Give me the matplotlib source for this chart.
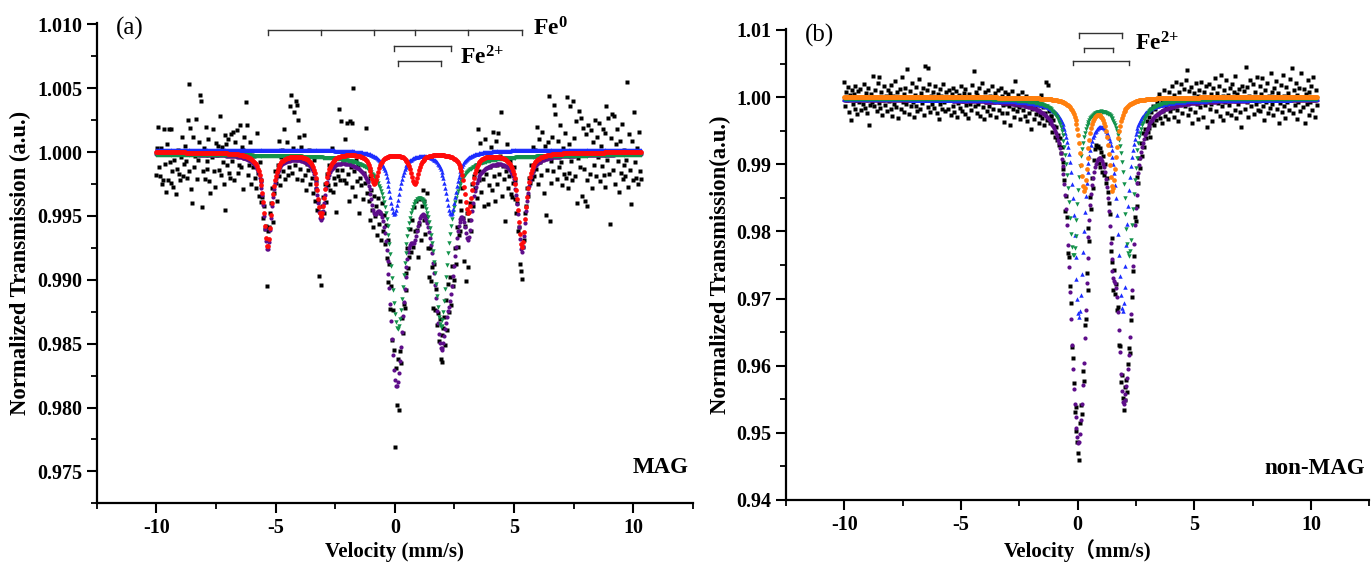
import numpy as np
import matplotlib
matplotlib.use("Agg")
import matplotlib.pyplot as plt
from matplotlib.ticker import MultipleLocator, FormatStrFormatter

plt.rcParams["font.family"] = ["Liberation Serif", "Noto Sans CJK SC"]
plt.rcParams["mathtext.fontset"] = "custom"
plt.rcParams["mathtext.rm"] = "Liberation Serif"
plt.rcParams["mathtext.bf"] = "Liberation Serif:bold"
plt.rcParams["axes.unicode_minus"] = False

# velocity range of the channels (mm/s)
VEL_A = (-10.0, 10.3)
VEL_B = (-10.0, 10.25)

# (a) MAG: measured transmission, one value per channel
mag_trans = [
    0.9982, 1.0003, 1.0020, 0.9988, 0.9981, 1.0003, 0.9975, 0.9978, 1.0018, 0.9991, 0.9969, 1.0006, 0.9978, 1.0018, 0.9992, 0.9976,
    1.0018, 0.9985, 0.9973, 0.9994, 1.0000, 0.9967, 0.9987, 1.0002, 0.9983, 0.9978, 0.9996, 1.0012, 0.9981, 0.9991, 1.0005, 0.9993,
    0.9980, 1.0025, 1.0053, 0.9985, 1.0019, 0.9971, 0.9960, 1.0012, 0.9988, 0.9997, 1.0026, 0.9979, 0.9994, 1.0008, 1.0045, 1.0040,
    0.9957, 0.9985, 1.0003, 0.9979, 1.0020, 0.9993, 0.9987, 1.0010, 0.9977, 0.9968, 1.0000, 0.9996, 1.0018, 0.9985, 0.9973, 1.0007,
    0.9998, 1.0005, 0.9986, 1.0028, 0.9982, 1.0004, 0.9992, 0.9975, 1.0013, 0.9955, 1.0006, 0.9990, 1.0010, 0.9984, 0.9980, 1.0014,
    0.9993, 1.0016, 0.9978, 1.0008, 0.9999, 1.0017, 0.9984, 0.9990, 1.0021, 0.9988, 1.0004, 0.9971, 1.0002, 1.0012, 0.9995, 1.0039,
    1.0021, 0.9982, 0.9990, 1.0008, 0.9975, 1.0001, 0.9988, 0.9997, 0.9980, 0.9972, 1.0015, 0.9984, 0.9966, 0.9992, 0.9961, 0.9978,
    0.9965, 0.9948, 0.9958, 0.9940, 0.9942, 0.9895, 0.9938, 0.9941, 0.9952, 0.9960, 0.9972, 0.9945, 0.9968, 0.9985, 0.9976, 0.9962,
    0.9990, 0.9981, 1.0009, 0.9974, 0.9996, 1.0002, 0.9985, 1.0018, 0.9979, 0.9993, 1.0008, 0.9982, 0.9988, 1.0036, 1.0045, 0.9984,
    1.0003, 1.0031, 0.9990, 1.0040, 1.0037, 0.9979, 1.0025, 1.0012, 0.9987, 1.0004, 0.9978, 0.9996, 1.0013, 0.9982, 0.9970, 0.9991,
    0.9986, 1.0002, 0.9975, 0.9991, 0.9980, 0.9968, 0.9994, 0.9962, 0.9978, 0.9971, 0.9955, 0.9962, 0.9903, 0.9953, 0.9896, 0.9958,
    0.9965, 0.9952, 0.9975, 0.9961, 0.9983, 0.9974, 0.9990, 0.9970, 0.9988, 1.0003, 0.9969, 0.9980, 0.9995, 0.9975, 0.9953, 0.9986,
    0.9981, 1.0034, 0.9978, 1.0024, 0.9986, 0.9992, 0.9978, 1.0010, 0.9976, 1.0023, 0.9983, 0.9962, 1.0024, 0.9988, 0.9973, 1.0023,
    1.0050, 0.9985, 0.9966, 0.9994, 0.9977, 0.9990, 0.9952, 0.9980, 0.9974, 0.9996, 0.9963, 0.9984, 0.9976, 1.0019, 0.9968, 0.9978,
    0.9962, 0.9981, 0.9947, 0.9970, 0.9955, 0.9941, 0.9966, 0.9950, 0.9958, 0.9935, 0.9964, 0.9944, 0.9952, 0.9931, 0.9960, 0.9938,
    0.9951, 0.9928, 0.9943, 0.9917, 0.9931, 0.9898, 0.9912, 0.9877, 0.9895, 0.9853, 0.9876, 0.9845, 0.9769, 0.9831, 0.9802, 0.9838,
    0.9798, 0.9844, 0.9835, 0.9870, 0.9858, 0.9881, 0.9878, 0.9905, 0.9892, 0.9925, 0.9909, 0.9918, 0.9940, 0.9922, 0.9947, 0.9926,
    0.9957, 0.9938, 0.9962, 0.9939, 0.9918, 0.9944, 0.9963, 0.9931, 0.9958, 0.9970, 0.9947, 0.9962, 0.9936, 0.9950, 0.9968, 0.9925,
    0.9902, 0.9925, 0.9899, 0.9910, 0.9878, 0.9912, 0.9876, 0.9893, 0.9865, 0.9874, 0.9852, 0.9869, 0.9838, 0.9857, 0.9836, 0.9862,
    0.9871, 0.9849, 0.9884, 0.9861, 0.9897, 0.9875, 0.9902, 0.9880, 0.9911, 0.9895, 0.9900, 0.9925, 0.9912, 0.9941, 0.9926, 0.9935,
    0.9962, 0.9938, 0.9955, 0.9972, 0.9948, 0.9915, 0.9942, 0.9899, 0.9952, 0.9910, 0.9947, 0.9960, 0.9938, 0.9975, 0.9958, 0.9981,
    0.9972, 0.9990, 0.9964, 1.0018, 0.9978, 0.9985, 1.0007, 0.9969, 0.9992, 0.9979, 0.9958, 1.0010, 0.9983, 0.9996, 0.9959, 0.9974,
    0.9988, 1.0004, 0.9970, 1.0016, 0.9981, 0.9962, 1.0009, 0.9990, 0.9975, 1.0015, 0.9983, 0.9997, 1.0031, 0.9966, 0.9989, 0.9979,
    0.9946, 0.9985, 1.0006, 0.9972, 0.9981, 0.9993, 0.9967, 0.9965, 0.9976, 0.9988, 0.9963, 0.9978, 0.9952, 0.9960, 0.9938, 0.9941,
    0.9912, 0.9907, 0.9901, 0.9926, 0.9931, 0.9952, 0.9958, 0.9972, 0.9966, 0.9980, 0.9976, 0.9990, 0.9979, 0.9985, 1.0004, 0.9981,
    1.0002, 0.9987, 1.0020, 0.9975, 1.0010, 0.9992, 0.9982, 1.0016, 0.9997, 0.9968, 1.0005, 0.9951, 0.9986, 1.0008, 1.0044, 0.9946,
    0.9993, 0.9976, 1.0012, 0.9985, 1.0037, 1.0030, 0.9998, 0.9979, 1.0009, 0.9988, 1.0021, 0.9992, 0.9974, 1.0003, 0.9983, 1.0015,
    0.9980, 1.0043, 0.9972, 1.0006, 0.9984, 1.0036, 0.9993, 0.9978, 1.0040, 1.0011, 0.9981, 1.0024, 0.9960, 0.9995, 1.0032, 0.9988,
    1.0027, 0.9966, 1.0019, 0.9987, 0.9962, 1.0014, 0.9978, 0.9958, 1.0021, 0.9999, 0.9983, 1.0017, 0.9972, 1.0008, 0.9990, 1.0025,
    0.9981, 1.0012, 0.9996, 1.0023, 0.9977, 1.0005, 0.9989, 1.0018, 0.9982, 1.0015, 0.9973, 1.0036, 0.9994, 1.0027, 0.9983, 0.9944,
    1.0011, 1.0030, 0.9986, 1.0028, 0.9975, 1.0006, 1.0018, 0.9993, 0.9969, 1.0009, 0.9984, 1.0022, 0.9979, 1.0002, 0.9990, 0.9981,
    0.9994, 1.0055, 0.9973, 1.0014, 0.9986, 0.9959, 1.0009, 0.9978, 1.0031, 0.9992, 0.9980, 1.0003, 0.9975, 1.0016, 0.9985, 0.9979,
]

# (b) non-MAG: measured transmission, one value per channel
nonmag_trans = [
    1.0023, 0.9987, 1.0008, 0.9995, 1.0015, 0.9978, 1.0003, 0.9966, 1.0011, 0.9990, 1.0004, 0.9983, 1.0016, 0.9996, 0.9975, 1.0009,
    0.9992, 1.0012, 0.9981, 1.0000, 0.9989, 1.0020, 0.9984, 1.0006, 0.9977, 0.9998, 1.0013, 0.9959, 0.9988, 1.0004, 0.9993, 1.0031,
    0.9986, 1.0010, 0.9997, 0.9980, 1.0021, 0.9991, 1.0030, 0.9984, 1.0007, 0.9973, 0.9995, 1.0016, 0.9988, 1.0002, 0.9979, 1.0011,
    0.9994, 1.0006, 0.9982, 1.0018, 0.9972, 1.0001, 0.9990, 1.0024, 0.9985, 1.0008, 0.9969, 0.9997, 1.0012, 0.9983, 1.0030, 0.9993,
    1.0005, 0.9978, 1.0014, 0.9989, 1.0042, 0.9996, 0.9975, 1.0009, 0.9986, 1.0021, 0.9992, 0.9971, 1.0003, 0.9987, 1.0015, 0.9980,
    0.9998, 1.0027, 0.9983, 1.0006, 0.9991, 1.0013, 0.9974, 1.0047, 0.9996, 1.0010, 1.0043, 0.9985, 1.0019, 0.9978, 1.0002, 0.9990,
    1.0008, 0.9984, 1.0016, 0.9997, 0.9976, 1.0005, 0.9968, 1.0012, 0.9989, 1.0001, 0.9982, 1.0019, 0.9993, 0.9979, 1.0007, 0.9995,
    0.9983, 1.0011, 0.9996, 0.9973, 1.0004, 0.9987, 1.0014, 0.9978, 0.9998, 1.0009, 0.9970, 0.9991, 1.0003, 0.9984, 1.0017, 0.9980,
    0.9994, 1.0006, 0.9975, 1.0012, 0.9988, 1.0000, 0.9969, 1.0004, 0.9990, 0.9981, 1.0018, 0.9995, 1.0039, 0.9986, 1.0008, 0.9977,
    1.0003, 0.9989, 1.0013, 0.9972, 0.9996, 1.0021, 0.9985, 0.9968, 1.0007, 0.9992, 0.9979, 1.0010, 0.9987, 1.0001, 0.9974, 0.9998,
    1.0016, 0.9983, 0.9992, 1.0006, 0.9970, 0.9998, 1.0011, 0.9981, 0.9993, 1.0014, 0.9977, 1.0002, 0.9988, 0.9963, 1.0008, 0.9990,
    0.9976, 1.0005, 0.9986, 0.9958, 0.9996, 1.0009, 0.9982, 0.9994, 0.9971, 1.0024, 0.9988, 0.9979, 1.0003, 0.9985, 0.9967, 0.9997,
    1.0008, 0.9981, 0.9993, 0.9972, 1.0001, 0.9986, 0.9964, 0.9990, 0.9977, 0.9998, 0.9953, 0.9983, 0.9991, 0.9968, 0.9987, 0.9975,
    0.9994, 0.9979, 0.9961, 0.9988, 0.9973, 1.0003, 0.9969, 0.9985, 0.9958, 0.9977, 1.0023, 0.9966, 1.0018, 0.9980, 0.9962, 0.9972,
    0.9972, 0.9948, 0.9966, 0.9957, 0.9941, 0.9955, 0.9936, 0.9944, 0.9928, 0.9939, 0.9917, 0.9925, 0.9903, 0.9893, 0.9876, 0.9831,
    0.9852, 0.9821, 0.9768, 0.9762, 0.9718, 0.9694, 0.9628, 0.9611, 0.9574, 0.9531, 0.9539, 0.9502, 0.9486, 0.9470, 0.9459, 0.9515,
    0.9541, 0.9528, 0.9592, 0.9577, 0.9661, 0.9669, 0.9738, 0.9712, 0.9805, 0.9786, 0.9851, 0.9834, 0.9880, 0.9864, 0.9907, 0.9922,
    0.9928, 0.9925, 0.9927, 0.9902, 0.9924, 0.9896, 0.9918, 0.9889, 0.9913, 0.9884, 0.9901, 0.9872, 0.9880, 0.9858, 0.9842, 0.9826,
    0.9771, 0.9790, 0.9755, 0.9712, 0.9742, 0.9706, 0.9721, 0.9683, 0.9688, 0.9631, 0.9629, 0.9575, 0.9586, 0.9552, 0.9534, 0.9568,
    0.9549, 0.9578, 0.9561, 0.9603, 0.9627, 0.9619, 0.9668, 0.9702, 0.9741, 0.9763, 0.9821, 0.9815, 0.9838, 0.9881, 0.9872, 0.9909,
    0.9894, 0.9931, 0.9912, 0.9946, 0.9925, 0.9952, 0.9939, 0.9965, 0.9948, 0.9971, 0.9954, 0.9940, 0.9978, 0.9962, 0.9986, 0.9959,
    0.9983, 0.9966, 0.9992, 0.9975, 1.0004, 0.9969, 0.9988, 0.9961, 0.9995, 0.9980, 1.0011, 0.9972, 0.9986, 0.9994, 0.9967, 1.0008,
    0.9979, 0.9996, 1.0016, 0.9984, 0.9970, 1.0003, 0.9989, 1.0022, 0.9981, 0.9965, 1.0007, 0.9993, 1.0019, 0.9976, 0.9998, 1.0012,
    0.9987, 1.0026, 0.9995, 1.0040, 0.9974, 1.0009, 0.9983, 1.0015, 0.9962, 0.9992, 1.0006, 0.9978, 1.0021, 0.9989, 1.0002, 0.9968,
    1.0010, 0.9985, 1.0023, 0.9994, 0.9971, 1.0007, 0.9988, 1.0016, 0.9956, 0.9999, 1.0019, 0.9982, 1.0005, 0.9990, 0.9964, 1.0013,
    0.9997, 1.0028, 0.9980, 1.0006, 0.9991, 1.0017, 0.9972, 1.0033, 0.9986, 1.0001, 0.9966, 1.0010, 0.9993, 1.0025, 0.9977, 1.0003,
    0.9988, 1.0014, 0.9974, 1.0020, 0.9995, 1.0008, 0.9981, 1.0031, 0.9969, 1.0004, 0.9990, 1.0012, 0.9978, 0.9955, 1.0017, 0.9996,
    1.0009, 0.9983, 1.0045, 0.9992, 1.0015, 0.9970, 1.0002, 1.0026, 0.9986, 0.9998, 1.0019, 0.9975, 1.0007, 0.9989, 1.0030, 0.9981,
    0.9994, 1.0016, 0.9979, 1.0005, 1.0028, 0.9987, 0.9966, 1.0011, 0.9993, 1.0021, 0.9976, 1.0001, 0.9984, 1.0036, 0.9990, 1.0008,
    0.9973, 1.0013, 0.9996, 1.0024, 0.9982, 1.0006, 0.9961, 0.9991, 1.0018, 0.9978, 1.0033, 0.9987, 1.0002, 0.9969, 1.0015, 0.9993,
    1.0006, 0.9981, 1.0027, 0.9995, 1.0043, 0.9976, 1.0010, 0.9988, 1.0021, 0.9967, 1.0003, 0.9992, 1.0014, 0.9979, 1.0036, 0.9998,
    0.9985, 1.0012, 0.9962, 1.0004, 0.9990, 1.0025, 0.9974, 1.0008, 0.9993, 1.0017, 0.9981, 1.0030, 0.9996, 0.9970, 1.0011, 0.9988,
]

# fitted sub-spectra: line positions (mm/s), line depths, FWHM, baseline
# (a) Fe0 sextet (red), Fe2+ doublets (blue, green)
a_fe0_pos = [-5.33, -3.09, -0.86, 0.83, 3.08, 5.33]
a_fe0_depth = [0.0074, 0.0049, 0.0024, 0.0024, 0.0047, 0.0074]
a_fe0_fwhm, a_fe0_base = 0.38, 1.0000
a_d1_pos = [-0.02, 2.35]
a_d1_depth = [0.0050, 0.0050]
a_d1_fwhm, a_d1_base = 0.55, 1.0002
a_d2_pos = [0.12, 1.93]
a_d2_depth = [0.0132, 0.0130]
a_d2_fwhm, a_d2_base = 0.70, 0.9998
a_total_base = 0.9999

# (b) three Fe2+ doublets (orange, blue, green)
b_d1_pos = [0.27, 1.50]
b_d1_depth = [0.0136, 0.0136]
b_d1_fwhm, b_d1_base = 0.40, 1.0000
b_d2_pos = [0.06, 1.92]
b_d2_depth = [0.0320, 0.0310]
b_d2_fwhm, b_d2_base = 0.49, 0.9997
b_d3_pos = [-0.19, 2.20]
b_d3_depth = [0.0232, 0.0232]
b_d3_fwhm, b_d3_base = 0.50, 0.9998
b_total_base = 0.9997

C_RED = "#ff0a0a"
C_BLUE = "#1c2cff"
C_GREEN = "#12924a"
C_PURPLE = "#5e0d8a"
C_ORANGE = "#ff7f0e"

TICK_FS = 14.5
XLABEL_FS = 15
YLABEL_FS = 16.3


def absorption(v, pos, depth, fwhm):
    """Sum of Lorentzian absorption lines."""
    hw2 = (fwhm / 2.0) ** 2
    out = np.zeros_like(v)
    for c, d in zip(pos, depth):
        out += d * hw2 / ((v - c) ** 2 + hw2)
    return out


def style_axis(ax, ymajor, yfmt):
    ax.set_xlim(-12.5, 12.5)
    ax.set_xticks([-10, -5, 0, 5, 10])
    ax.xaxis.set_minor_locator(MultipleLocator(2.5))
    ax.yaxis.set_minor_locator(MultipleLocator(ymajor / 2))
    ax.yaxis.set_major_formatter(FormatStrFormatter(yfmt))
    for side in ("top", "right"):
        ax.spines[side].set_visible(False)
    for side in ("left", "bottom"):
        ax.spines[side].set_linewidth(1.6)
    ax.tick_params(which="major", direction="out", length=7, width=1.5, labelsize=TICK_FS)
    ax.tick_params(which="minor", direction="out", length=4, width=1.3)
    for lab in ax.get_xticklabels() + ax.get_yticklabels():
        lab.set_fontweight("bold")


def bracket(ax, pos, y, drop, lw=1.0):
    x0, x1 = min(pos), max(pos)
    ax.plot([x0, x1], [y, y], color="#333333", lw=lw, zorder=6)
    for p in pos:
        ax.plot([p, p], [y, y - drop], color="#333333", lw=lw, zorder=6)


fig = plt.figure(figsize=(13.71, 5.63), dpi=100)
ax_a = fig.add_axes([0.0705, 0.106, 0.435, 0.853])
ax_b = fig.add_axes([0.5733, 0.112, 0.4255, 0.836])

# ---- panel (a) ----
va = np.linspace(VEL_A[0], VEL_A[1], len(mag_trans))
fe0 = absorption(va, a_fe0_pos, a_fe0_depth, a_fe0_fwhm)
d1 = absorption(va, a_d1_pos, a_d1_depth, a_d1_fwhm)
d2 = absorption(va, a_d2_pos, a_d2_depth, a_d2_fwhm)

ax_a.plot(va, mag_trans, "s", color="black", ms=2.6, mec="none", zorder=1)
ax_a.plot(va, a_total_base - fe0 - d1 - d2, "o", color=C_PURPLE, ms=3.0, mec="none", zorder=2)
ax_a.plot(va, a_d2_base - d2, "v", color=C_GREEN, ms=3.2, mec="none", zorder=3)
ax_a.plot(va, a_d1_base - d1, "^", color=C_BLUE, ms=3.2, mec="none", zorder=4)
ax_a.plot(va, a_fe0_base - fe0, "o", color=C_RED, ms=3.4, mec="none", zorder=5)

ax_a.set_yticks([0.975, 0.980, 0.985, 0.990, 0.995, 1.000, 1.005, 1.010])
ax_a.set_ylim(0.9725, 1.0101)
style_axis(ax_a, 0.005, "%.3f")
ax_a.set_xlabel("Velocity (mm/s)", fontsize=XLABEL_FS, fontweight="bold", labelpad=3)
ax_a.set_ylabel("Normalized Transmission (a.u.)", fontsize=YLABEL_FS, fontweight="bold", labelpad=4)

bracket(ax_a, a_fe0_pos, 1.00958, 0.0004)
bracket(ax_a, a_d1_pos, 1.00830, 0.0004)
bracket(ax_a, a_d2_pos, 1.00712, 0.0004)
ax_a.text(5.8, 1.00965, r"$\mathbf{Fe^{0}}$", fontsize=17, va="center", ha="left")
ax_a.text(2.75, 1.0074, r"$\mathbf{Fe^{2{+}}}$", fontsize=17, va="center", ha="left")
ax_a.text(-11.7, 1.0097, "(a)", fontsize=18, va="center", ha="left")
ax_a.text(12.3, 0.9753, "MAG", fontsize=16.5, fontweight="bold", va="center", ha="right")

# ---- panel (b) ----
vb = np.linspace(VEL_B[0], VEL_B[1], len(nonmag_trans))
e1 = absorption(vb, b_d1_pos, b_d1_depth, b_d1_fwhm)
e2 = absorption(vb, b_d2_pos, b_d2_depth, b_d2_fwhm)
e3 = absorption(vb, b_d3_pos, b_d3_depth, b_d3_fwhm)

ax_b.plot(vb, nonmag_trans, "s", color="black", ms=2.6, mec="none", zorder=1)
ax_b.plot(vb, b_total_base - e1 - e2 - e3, "o", color=C_PURPLE, ms=3.0, mec="none", zorder=2)
ax_b.plot(vb, b_d2_base - e2, "^", color=C_BLUE, ms=3.2, mec="none", zorder=3)
ax_b.plot(vb, b_d3_base - e3, "v", color=C_GREEN, ms=3.2, mec="none", zorder=4)
ax_b.plot(vb, b_d1_base - e1, "o", color=C_ORANGE, ms=3.4, mec="none", zorder=5)

ax_b.set_yticks([0.94, 0.95, 0.96, 0.97, 0.98, 0.99, 1.00, 1.01])
ax_b.set_ylim(0.94, 1.0101)
style_axis(ax_b, 0.01, "%.2f")
ax_b.set_xlabel("Velocity（mm/s)", fontsize=XLABEL_FS, fontweight="bold", labelpad=3)
ax_b.set_ylabel("Normalized Transmission(a.u.)", fontsize=YLABEL_FS, fontweight="bold", labelpad=4)

bracket(ax_b, b_d2_pos, 1.00955, 0.0007)
bracket(ax_b, b_d1_pos, 1.00732, 0.0006)
bracket(ax_b, b_d3_pos, 1.00543, 0.0007)
ax_b.text(2.45, 1.0079, r"$\mathbf{Fe^{2{+}}}$", fontsize=17, va="center", ha="left")
ax_b.text(-11.7, 1.0092, "(b)", fontsize=18, va="center", ha="left")
ax_b.text(12.3, 0.9447, "non-MAG", fontsize=16.5, fontweight="bold", va="center", ha="right")

fig.savefig("out.png", dpi=100)
